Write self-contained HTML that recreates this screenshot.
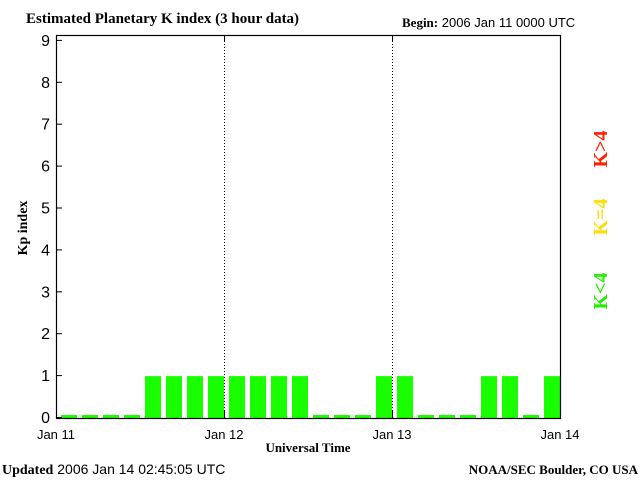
<!DOCTYPE html>
<html><head><meta charset="utf-8"><style>
body{margin:0;background:#fff;width:640px;height:480px;overflow:hidden}
svg{display:block}
text{font-family:"Liberation Sans",sans-serif}
.s{font-family:"Liberation Serif",serif;font-weight:bold}
</style></head><body>
<svg id="c" width="640" height="480">
<text class="s" x="26" y="23" font-size="15">Estimated Planetary K index (3 hour data)</text>
<text x="402" y="27" font-size="13"><tspan class="s">Begin:</tspan> 2006 Jan 11 0000 UTC</text>
<text class="s" x="27" y="228" font-size="14" transform="rotate(-90 27 228)" text-anchor="middle">Kp index</text>
<text class="s" x="308" y="452" font-size="13" text-anchor="middle">Universal Time</text>
<text x="2" y="474" font-size="14"><tspan class="s">Updated</tspan> 2006 Jan 14 02:45:05 UTC</text>
<text class="s" x="638" y="474" font-size="13" text-anchor="end">NOAA/SEC Boulder, CO USA</text>
<text class="s" x="607" y="149" font-size="20" fill="#ff2200" transform="rotate(-90 607 149)" text-anchor="middle">K&gt;4</text>
<text class="s" x="607" y="217" font-size="20" fill="#ffdd00" transform="rotate(-90 607 217)" text-anchor="middle">K=4</text>
<text class="s" x="607" y="291" font-size="20" fill="#22ee00" transform="rotate(-90 607 291)" text-anchor="middle">K&lt;4</text>
<g id="plot"></g>
</svg>
<script>
const kpValues=[0,0,0,0,1,1,1,1,1,1,1,1,0,0,0,1,1,0,0,0,1,1,0,1];
const yTicks=[0,1,2,3,4,5,6,7,8,9];
const dayLabels=["Jan 11","Jan 12","Jan 13","Jan 14"];
const NS="http://www.w3.org/2000/svg";
const g=document.getElementById("plot");
const X0=56,X1=560,Y0=417,UNIT=41.9,TOP=35;
const bw=(X1-X0)/kpValues.length;
function xs(i){return X0+i*bw;}
function ys(v){return Y0-v*UNIT;}
function mk(t,a){const e=document.createElementNS(NS,t);for(const k in a)e.setAttribute(k,a[k]);g.appendChild(e);return e;}
kpValues.forEach((v,i)=>{
 const h=Math.max(v*UNIT,3);
 const c=v>4?"#ff2200":v==4?"#ffdd00":"#1aff00";
 const r=mk("rect",{x:xs(i)+5,y:Y0+1-h,width:16,height:h,fill:c});
 
 
});
dayLabels.forEach((d,i)=>{
 const x=X0+i*(X1-X0)/3;
 if(i>0&&i<3){const l=mk("line",{x1:x+.5,x2:x+.5,y1:TOP,y2:Y0+1,stroke:"#000","stroke-dasharray":"1,2"});
 
 
 mk("line",{x1:x+.5,x2:x+.5,y1:TOP,y2:TOP+6,stroke:"#000"});mk("line",{x1:x+.5,x2:x+.5,y1:Y0-6,y2:Y0+1,stroke:"#000"});}
 const t=mk("text",{x:x,y:439,"font-size":13,"text-anchor":"middle"});t.textContent=d;
 
 
});
yTicks.forEach(v=>{
 const y=ys(v);
 mk("line",{x1:X0,x2:X0+6,y1:y+.5,y2:y+.5,stroke:"#000"});
 const t=mk("text",{x:50,y:y+6,"font-size":16,"text-anchor":"end"});t.textContent=v;
 
 
});
const f=mk("rect",{x:X0+.5,y:TOP+.5,width:X1-X0,height:Y0+1-TOP,fill:"none",stroke:"#000","stroke-width":1.2});


</script>
</body></html>
